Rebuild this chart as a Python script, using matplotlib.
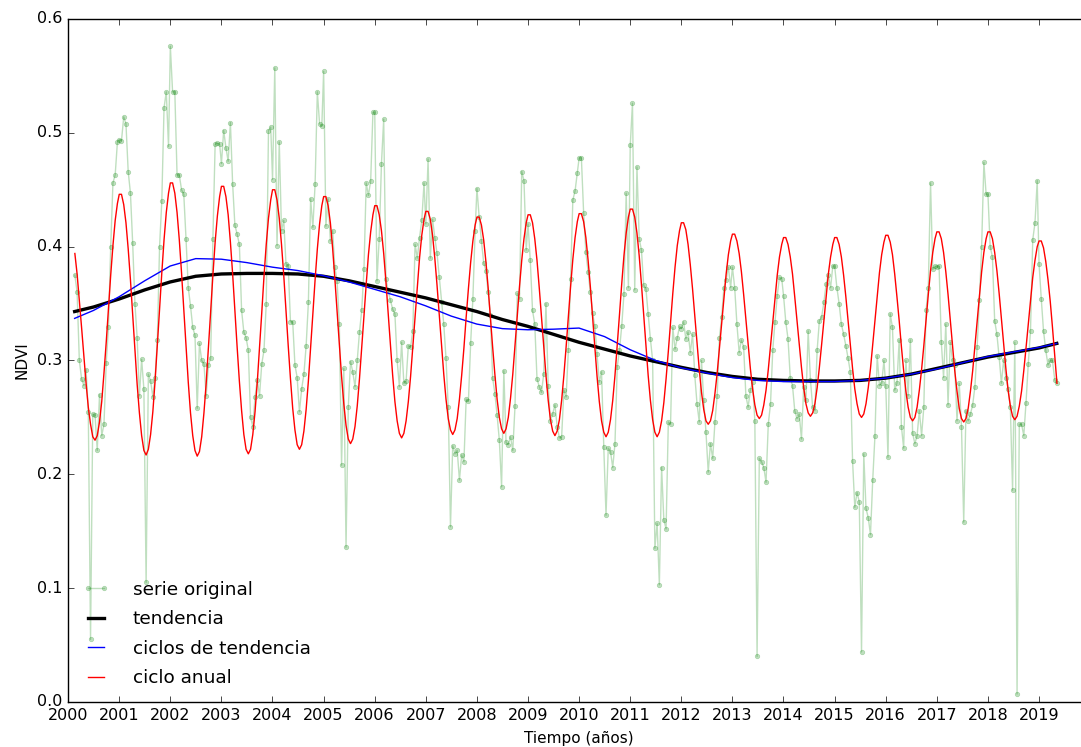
import matplotlib
matplotlib.use("Agg")
from matplotlib import pyplot as plt

# NDVI original (16-day composites), one list per year
ndvi = {
    2000: [0.375, 0.360, 0.300, 0.284, 0.278, 0.292, 0.255, 0.055, 0.253, 0.252,
           0.221, 0.270, 0.234, 0.244, 0.298, 0.329, 0.400, 0.456, 0.463, 0.492],
    2001: [0.494, 0.493, 0.514, 0.508, 0.466, 0.447, 0.403, 0.350, 0.320, 0.269, 0.301, 0.275,
           0.105, 0.288, 0.282, 0.268, 0.285, 0.318, 0.400, 0.440, 0.522, 0.536, 0.488],
    2002: [0.576, 0.536, 0.536, 0.463, 0.463, 0.450, 0.446, 0.407, 0.364, 0.348, 0.329, 0.322,
           0.258, 0.315, 0.300, 0.297, 0.269, 0.296, 0.302, 0.407, 0.490, 0.491, 0.490],
    2003: [0.473, 0.502, 0.487, 0.475, 0.509, 0.455, 0.419, 0.411, 0.402, 0.344, 0.325, 0.320,
           0.309, 0.250, 0.242, 0.268, 0.283, 0.269, 0.297, 0.309, 0.350, 0.502, 0.505],
    2004: [0.459, 0.557, 0.401, 0.492, 0.414, 0.423, 0.385, 0.383, 0.334, 0.334, 0.296, 0.285,
           0.255, 0.275, 0.288, 0.313, 0.351, 0.442, 0.417, 0.455, 0.536, 0.508, 0.506],
    2005: [0.554, 0.418, 0.442, 0.405, 0.414, 0.382, 0.370, 0.332, 0.208, 0.293, 0.136, 0.259,
           0.299, 0.290, 0.277, 0.300, 0.325, 0.344, 0.380, 0.456, 0.445, 0.458, 0.518],
    2006: [0.518, 0.370, 0.407, 0.473, 0.512, 0.372, 0.361, 0.353, 0.345, 0.341, 0.300, 0.277,
           0.316, 0.280, 0.282, 0.313, 0.312, 0.326, 0.402, 0.390, 0.408, 0.423, 0.456],
    2007: [0.420, 0.477, 0.390, 0.424, 0.408, 0.394, 0.373, 0.351, 0.332, 0.302, 0.259, 0.154,
           0.225, 0.218, 0.221, 0.195, 0.217, 0.211, 0.266, 0.264, 0.315, 0.354, 0.414],
    2008: [0.451, 0.426, 0.405, 0.386, 0.379, 0.360, 0.340, 0.285, 0.271, 0.252, 0.230, 0.189,
           0.291, 0.228, 0.226, 0.233, 0.221, 0.260, 0.359, 0.354, 0.466, 0.458, 0.397],
    2009: [0.420, 0.388, 0.344, 0.332, 0.284, 0.277, 0.272, 0.288, 0.350, 0.278, 0.247, 0.253,
           0.261, 0.242, 0.232, 0.233, 0.274, 0.268, 0.309, 0.372, 0.441, 0.449, 0.465],
    2010: [0.478, 0.478, 0.430, 0.395, 0.378, 0.360, 0.342, 0.330, 0.306, 0.281, 0.290, 0.224,
           0.164, 0.223, 0.220, 0.206, 0.227, 0.294, 0.309, 0.330, 0.358, 0.447, 0.364],
    2011: [0.489, 0.526, 0.362, 0.470, 0.407, 0.397, 0.366, 0.363, 0.341, 0.319, 0.300, 0.135,
           0.157, 0.103, 0.206, 0.160, 0.152, 0.246, 0.244, 0.329, 0.310, 0.320, 0.330],
    2012: [0.328, 0.334, 0.319, 0.325, 0.307, 0.323, 0.287, 0.262, 0.246, 0.300, 0.265, 0.237,
           0.202, 0.227, 0.214, 0.246, 0.269, 0.320, 0.338, 0.364, 0.371, 0.382, 0.364],
    2013: [0.382, 0.364, 0.332, 0.307, 0.318, 0.312, 0.269, 0.259, 0.274, 0.281, 0.247, 0.040,
           0.214, 0.211, 0.206, 0.193, 0.244, 0.262, 0.309, 0.334, 0.357, 0.373, 0.372],
    2014: [0.357, 0.334, 0.319, 0.285, 0.278, 0.256, 0.249, 0.253, 0.231, 0.277, 0.265, 0.326,
           0.283, 0.259, 0.256, 0.309, 0.335, 0.338, 0.351, 0.367, 0.375, 0.364, 0.383],
    2015: [0.383, 0.364, 0.350, 0.332, 0.323, 0.313, 0.302, 0.290, 0.212, 0.171, 0.184, 0.176,
           0.044, 0.218, 0.170, 0.162, 0.147, 0.195, 0.234, 0.304, 0.278, 0.280, 0.300],
    2016: [0.278, 0.215, 0.341, 0.329, 0.274, 0.280, 0.318, 0.242, 0.223, 0.300, 0.269, 0.318,
           0.236, 0.227, 0.234, 0.256, 0.234, 0.259, 0.344, 0.364, 0.456, 0.380, 0.383],
    2017: [0.382, 0.383, 0.316, 0.285, 0.332, 0.261, 0.316, 0.300, 0.296, 0.247, 0.280, 0.242,
           0.158, 0.256, 0.247, 0.253, 0.261, 0.277, 0.312, 0.353, 0.400, 0.474, 0.446],
    2018: [0.446, 0.400, 0.391, 0.335, 0.323, 0.303, 0.280, 0.300, 0.285, 0.275, 0.259, 0.186,
           0.316, 0.007, 0.244, 0.244, 0.234, 0.263, 0.297, 0.326, 0.406, 0.421, 0.458],
    2019: [0.385, 0.354, 0.326, 0.309, 0.296, 0.300, 0.300, 0.283, 0.280],
}

# ciclo anual (same dates as the original series)
ciclo_anual = {
    2000: [0.394, 0.376, 0.353, 0.329, 0.304, 0.280, 0.259, 0.244, 0.233, 0.230,
           0.234, 0.246, 0.264, 0.289, 0.316, 0.346, 0.375, 0.401, 0.423, 0.438],
    2001: [0.446, 0.446, 0.437, 0.421, 0.398, 0.371, 0.340, 0.309, 0.279, 0.254, 0.234, 0.221,
           0.217, 0.222, 0.235, 0.255, 0.282, 0.313, 0.345, 0.377, 0.406, 0.430, 0.447],
    2002: [0.456, 0.456, 0.447, 0.430, 0.406, 0.377, 0.345, 0.312, 0.281, 0.254, 0.234, 0.221,
           0.216, 0.220, 0.233, 0.254, 0.280, 0.311, 0.343, 0.375, 0.404, 0.427, 0.444],
    2003: [0.453, 0.453, 0.444, 0.428, 0.404, 0.376, 0.344, 0.312, 0.282, 0.256, 0.235, 0.222,
           0.218, 0.222, 0.235, 0.255, 0.281, 0.311, 0.342, 0.374, 0.402, 0.425, 0.441],
    2004: [0.450, 0.450, 0.441, 0.425, 0.402, 0.375, 0.344, 0.313, 0.284, 0.258, 0.239, 0.226,
           0.222, 0.226, 0.238, 0.257, 0.282, 0.311, 0.341, 0.371, 0.398, 0.420, 0.436],
    2005: [0.444, 0.444, 0.436, 0.421, 0.399, 0.372, 0.343, 0.314, 0.286, 0.262, 0.243, 0.231,
           0.227, 0.231, 0.242, 0.260, 0.284, 0.311, 0.339, 0.367, 0.393, 0.413, 0.428],
    2006: [0.436, 0.436, 0.428, 0.414, 0.394, 0.369, 0.341, 0.314, 0.287, 0.264, 0.247, 0.236,
           0.232, 0.236, 0.247, 0.264, 0.286, 0.312, 0.339, 0.365, 0.390, 0.410, 0.424],
    2007: [0.431, 0.431, 0.424, 0.410, 0.390, 0.366, 0.340, 0.313, 0.288, 0.266, 0.249, 0.239,
           0.235, 0.239, 0.249, 0.266, 0.287, 0.311, 0.338, 0.363, 0.386, 0.405, 0.419],
    2008: [0.426, 0.426, 0.419, 0.406, 0.387, 0.364, 0.338, 0.312, 0.288, 0.266, 0.250, 0.240,
           0.236, 0.240, 0.250, 0.267, 0.288, 0.313, 0.339, 0.365, 0.388, 0.407, 0.421],
    2009: [0.428, 0.428, 0.421, 0.407, 0.388, 0.364, 0.338, 0.312, 0.287, 0.265, 0.248, 0.238,
           0.234, 0.238, 0.248, 0.265, 0.287, 0.312, 0.339, 0.365, 0.389, 0.408, 0.422],
    2010: [0.429, 0.429, 0.422, 0.408, 0.388, 0.365, 0.338, 0.312, 0.286, 0.264, 0.247, 0.237,
           0.233, 0.237, 0.248, 0.265, 0.287, 0.313, 0.340, 0.367, 0.392, 0.412, 0.426],
    2011: [0.433, 0.433, 0.426, 0.412, 0.392, 0.367, 0.340, 0.313, 0.287, 0.265, 0.248, 0.237,
           0.233, 0.237, 0.247, 0.263, 0.284, 0.308, 0.334, 0.359, 0.382, 0.401, 0.414],
    2012: [0.421, 0.421, 0.415, 0.402, 0.384, 0.363, 0.339, 0.315, 0.292, 0.272, 0.257, 0.247,
           0.244, 0.247, 0.256, 0.271, 0.289, 0.311, 0.334, 0.356, 0.376, 0.393, 0.405],
    2013: [0.411, 0.411, 0.405, 0.394, 0.378, 0.358, 0.336, 0.314, 0.293, 0.275, 0.261, 0.252,
           0.249, 0.252, 0.261, 0.274, 0.292, 0.313, 0.334, 0.356, 0.375, 0.391, 0.402],
    2014: [0.408, 0.408, 0.402, 0.391, 0.376, 0.356, 0.335, 0.314, 0.294, 0.276, 0.262, 0.254,
           0.251, 0.254, 0.262, 0.276, 0.294, 0.314, 0.335, 0.356, 0.376, 0.391, 0.402],
    2015: [0.408, 0.408, 0.402, 0.391, 0.375, 0.356, 0.335, 0.313, 0.293, 0.275, 0.262, 0.253,
           0.250, 0.253, 0.262, 0.276, 0.293, 0.314, 0.336, 0.357, 0.377, 0.393, 0.404],
    2016: [0.410, 0.410, 0.404, 0.393, 0.376, 0.356, 0.335, 0.312, 0.291, 0.273, 0.259, 0.250,
           0.247, 0.250, 0.259, 0.274, 0.292, 0.313, 0.336, 0.358, 0.379, 0.395, 0.407],
    2017: [0.413, 0.413, 0.407, 0.395, 0.378, 0.358, 0.336, 0.313, 0.291, 0.273, 0.258, 0.249,
           0.246, 0.249, 0.258, 0.273, 0.291, 0.313, 0.336, 0.358, 0.378, 0.395, 0.407],
    2018: [0.413, 0.413, 0.407, 0.395, 0.379, 0.359, 0.337, 0.314, 0.293, 0.274, 0.260, 0.251,
           0.248, 0.251, 0.260, 0.273, 0.291, 0.311, 0.332, 0.353, 0.373, 0.388, 0.400],
    2019: [0.405, 0.405, 0.399, 0.387, 0.371, 0.352, 0.329, 0.304, 0.280],
}

# smooth components, sampled every half year
t_suave = [2000.13, 2000.5, 2001.0, 2001.5, 2002.0, 2002.5, 2003.0, 2003.5, 2004.0, 2004.5,
           2005.0, 2005.5, 2006.0, 2006.5, 2007.0, 2007.5, 2008.0, 2008.5, 2009.0, 2009.5,
           2010.0, 2010.5, 2011.0, 2011.5, 2012.0, 2012.5, 2013.0, 2013.5, 2014.0, 2014.5,
           2015.0, 2015.5, 2016.0, 2016.5, 2017.0, 2017.5, 2018.0, 2018.5, 2019.0, 2019.35]
tendencia = [0.343, 0.347, 0.354, 0.362, 0.369, 0.374, 0.376, 0.3765, 0.3765, 0.376,
             0.374, 0.370, 0.365, 0.360, 0.355, 0.349, 0.343, 0.336, 0.330, 0.323,
             0.316, 0.310, 0.304, 0.299, 0.294, 0.2895, 0.286, 0.2835, 0.2825, 0.282,
             0.282, 0.2825, 0.2845, 0.288, 0.293, 0.298, 0.303, 0.307, 0.311, 0.315]
ciclos_tendencia = [0.337, 0.344, 0.356, 0.370, 0.383, 0.3895, 0.389, 0.386, 0.382, 0.379,
                    0.3745, 0.369, 0.3625, 0.356, 0.348, 0.339, 0.332, 0.328, 0.327, 0.3275,
                    0.3285, 0.321, 0.3095, 0.300, 0.2935, 0.289, 0.285, 0.2825, 0.2815, 0.2815,
                    0.2815, 0.2825, 0.2845, 0.288, 0.2925, 0.298, 0.3035, 0.3075, 0.3115, 0.315]

x_ticks = list(range(2000, 2020))
y_ticks = [0.0, 0.1, 0.2, 0.3, 0.4, 0.5, 0.6]


# Dates of the 16-day composites (day of year 1, 17, 33, ...)
def fechas(year, n):
    first = 3 if year == 2000 else 0
    return [year + (1 + 16 * k) / 365.0 for k in range(first, first + n)]


t_serie = []
v_serie = []
v_anual = []
for y in sorted(ndvi.keys()):
    t_serie += fechas(y, len(ndvi[y]))
    v_serie += ndvi[y]
    v_anual += ciclo_anual[y]

plt.style.use("classic")
fig = plt.figure(figsize=(10.81, 7.47), dpi=100, facecolor="white")
# the original screenshot is cut on the right, the axes go a bit past the edge
ax = fig.add_axes([68 / 1081, 45 / 747, (1090 - 68) / 1081, (702 - 19) / 747])
ax.set_facecolor("white")

ax.plot(t_serie, v_serie, color="green", marker=".", markersize=6.5, linewidth=1,
        alpha=0.25, label="serie original")
ax.plot(t_suave, tendencia, color="black", linewidth=2.4, label="tendencia")
ax.plot(t_suave, ciclos_tendencia, color="blue", linewidth=1, label="ciclos de tendencia")
ax.plot(t_serie, v_anual, color="red", linewidth=1, label="ciclo anual")

ax.set_xlim(2000, 2020)
ax.set_ylim(0, 0.6)
ax.set_xticks(x_ticks)
ax.set_xticklabels([str(t) for t in x_ticks], fontsize=11.5)
ax.set_yticks(y_ticks)
ax.set_yticklabels([f"{t:.1f}" for t in y_ticks], fontsize=11.5)
ax.set_xlabel("Tiempo (años)", fontsize=11, labelpad=6)
ax.set_ylabel("NDVI", fontsize=11, labelpad=5)

ax.legend(loc="lower left", frameon=False, fontsize=13.3, numpoints=2,
          handlelength=1.46, handletextpad=1.25, labelspacing=0.62,
          borderaxespad=0.4)

plt.savefig("out.png", dpi=100)
